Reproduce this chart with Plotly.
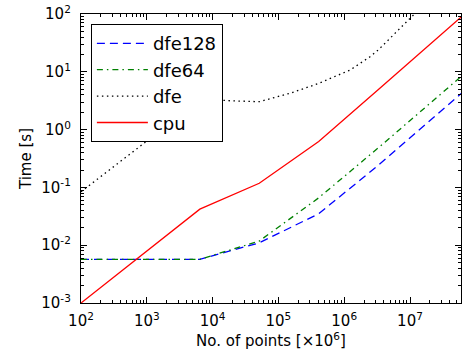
import plotly.graph_objects as go

# shared x grid (number of points) for cpu / dfe128 / dfe64
x_points = [1e2, 8e2, 6.4e3, 5.12e4, 4.096e5, 3.2768e6, 2.62144e7, 6.0e7]
cpu = [0.001, 0.0066, 0.042, 0.118, 0.62, 4.9, 39, 89]
dfe128 = [0.0057, 0.0057, 0.0057, 0.011, 0.035, 0.24, 1.83, 4.2]
dfe64 = [0.0057, 0.0057, 0.0057, 0.0118, 0.066, 0.48, 3.6, 8.3]

# dfe (dotted) read at more positions because it curves
dfe_x = [1e2, 8e2, 6.4e3, 1.73e4, 5.12e4, 1.5e5, 4.096e5, 1.22e6, 2.47e6,
         3.2768e6, 4.97e6, 9.4e6, 2.62144e7]
dfe = [0.084, 0.52, 3.5, 3.16, 3.04, 4.25, 6.3, 10.7, 18.2, 23.8, 38, 79, 250]

x_tick_vals = [1e2, 1e3, 1e4, 1e5, 1e6, 1e7]
x_tick_text = ["10<sup>2</sup>", "10<sup>3</sup>", "10<sup>4</sup>",
               "10<sup>5</sup>", "10<sup>6</sup>", "10<sup>7</sup>"]
y_tick_vals = [1e-3, 1e-2, 1e-1, 1e0, 1e1, 1e2]
y_tick_text = ["10<sup>-3</sup>", "10<sup>-2</sup>", "10<sup>-1</sup>",
               "10<sup>0</sup>", "10<sup>1</sup>", "10<sup>2</sup>"]

FONT = "DejaVu Sans"

fig = go.Figure()
fig.add_trace(go.Scatter(x=x_points, y=dfe128, mode="lines", name="dfe128",
                         line=dict(color="#0000ff", width=1.3, dash="8px,5px")))
fig.add_trace(go.Scatter(x=x_points, y=dfe64, mode="lines", name="dfe64",
                         line=dict(color="#008000", width=1.3, dash="6px,4px,1.5px,4px")))
fig.add_trace(go.Scatter(x=dfe_x, y=dfe, mode="lines", name="dfe",
                         line=dict(color="#000000", width=1.3, dash="1.5px,3.5px")))
fig.add_trace(go.Scatter(x=x_points, y=cpu, mode="lines", name="cpu",
                         line=dict(color="#ff0000", width=1.3)))

axis_common = dict(
    type="log",
    showgrid=False,
    zeroline=False,
    showline=True,
    linecolor="black",
    linewidth=1.3,
    mirror="allticks",
    ticks="inside",
    ticklen=6,
    tickwidth=1,
    tickcolor="black",
    tickfont=dict(family=FONT, size=15, color="black"),
    minor=dict(ticks="inside", ticklen=3, tickwidth=0.8, tickcolor="black",
               dtick="D1", showgrid=False),
)

fig.update_xaxes(
    **axis_common,
    range=[2, 7.775],
    tickvals=x_tick_vals,
    ticktext=x_tick_text,
    ticklabelstandoff=4,
    title=dict(text="No. of points [×10<sup>6</sup>]",
               font=dict(family=FONT, size=15, color="black"), standoff=6),
)
fig.update_yaxes(
    **axis_common,
    range=[-3, 2],
    tickvals=y_tick_vals,
    ticktext=y_tick_text,
    ticklabelstandoff=6,
    title=dict(text="Time [s]", font=dict(family=FONT, size=15, color="black"),
               standoff=6),
)

fig.update_layout(
    width=462,
    height=356,
    margin=dict(l=81, r=1, t=14, b=53),
    paper_bgcolor="white",
    plot_bgcolor="white",
    font=dict(family=FONT, color="black"),
    legend=dict(
        x=0.026, y=0.965, xanchor="left", yanchor="top",
        bgcolor="white", bordercolor="black", borderwidth=1,
        itemwidth=51,
        font=dict(family=FONT, size=18, color="black"),
    ),
)

fig.write_html("out.html")
